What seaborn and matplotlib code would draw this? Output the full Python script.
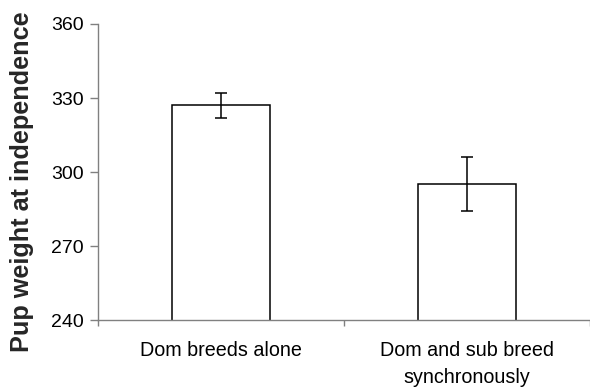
import matplotlib
matplotlib.use("Agg")
import matplotlib.pyplot as plt
import seaborn as sns
import pandas as pd
from matplotlib.ticker import FixedLocator

categories = ["Dom breeds alone", "Dom and sub breed\nsynchronously"]
means = [327, 295]
errors = [5, 11]
yticks = [240, 270, 300, 330, 360]

sns.set_theme(style="white")
plt.rcParams['font.family'] = ['Liberation Sans', 'DejaVu Sans']

df = pd.DataFrame({"group": categories, "weight": means})

fig = plt.figure(figsize=(5.9, 3.87), dpi=100)
ax = fig.add_axes([0.166, 0.173, 0.834, 0.765])

sns.barplot(data=df, x="group", y="weight", ax=ax, color="white",
            edgecolor="black", linewidth=1.1, width=0.4, errorbar=None)
for p in ax.patches:
    p.set_facecolor("white")
ax.errorbar(x=list(range(len(categories))), y=means, yerr=errors, fmt="none",
            ecolor="black", elinewidth=1.1, capsize=4.3, capthick=1.1)

ax.set_ylim(240, 360)
ax.set_xlim(-0.5, len(categories) - 0.5)
ax.set_yticks(yticks)
ax.set_xlabel("")
ax.set_ylabel("Pup weight at independence", fontsize=18.2, fontweight="bold")
ax.yaxis.set_label_coords(-0.13, 0.466)

for side in ["top", "right"]:
    ax.spines[side].set_visible(False)
for side in ["left", "bottom"]:
    ax.spines[side].set_color("#808080")
    ax.spines[side].set_linewidth(1.0)

ax.tick_params(axis="y", which="major", left=True, length=5.5, width=1.0,
               color="#808080", labelsize=14, pad=5, labelcolor="black")
ax.tick_params(axis="x", which="major", bottom=True, length=0, labelsize=14.2,
               pad=15, labelcolor="black")
ax.xaxis.set_minor_locator(FixedLocator([-0.5, 0.5, 1.5]))
ax.tick_params(axis="x", which="minor", bottom=True, length=4.3, width=1.0,
               color="#808080")
for lbl in ax.get_xticklabels():
    lbl.set_linespacing(1.55)

fig.savefig("out.png", dpi=100)
